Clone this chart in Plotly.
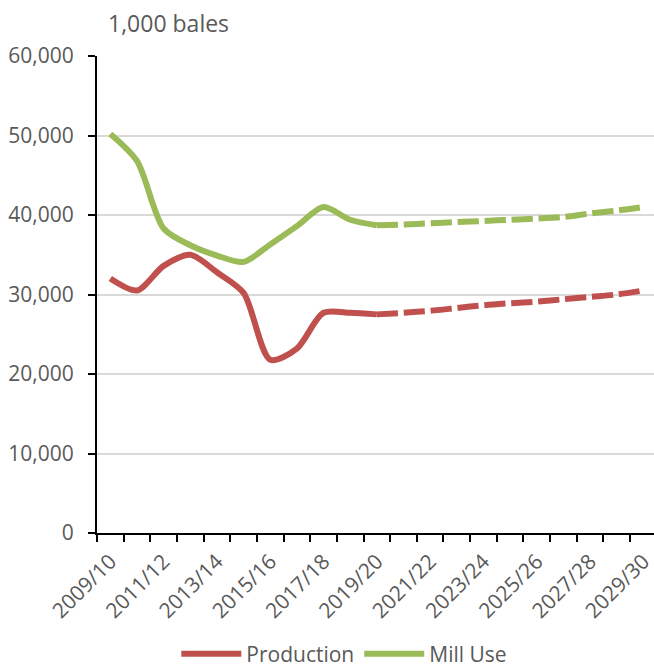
import plotly.graph_objects as go

years = ["2009/10", "2010/11", "2011/12", "2012/13", "2013/14", "2014/15", "2015/16",
         "2016/17", "2017/18", "2018/19", "2019/20", "2020/21", "2021/22", "2022/23",
         "2023/24", "2024/25", "2025/26", "2026/27", "2027/28", "2028/29", "2029/30"]

production = [32000, 30500, 33600, 35000, 32800, 30200, 21800, 23200, 27700, 27700, 27500,
              27700, 27950, 28300, 28650, 28900, 29100, 29400, 29700, 30000, 30500]
mill_use = [50200, 46800, 38300, 36200, 34900, 34100, 36300, 38600, 41000, 39400, 38700,
            38800, 38950, 39100, 39250, 39400, 39550, 39750, 40200, 40550, 41000]

split = years.index("2019/20")

RED = "#C0504D"
GREEN = "#9BBB59"
TXT = "#595959"
FONT = "Open Sans"

fig = go.Figure()
for name, vals, col in [("Production", production, RED), ("Mill Use", mill_use, GREEN)]:
    fig.add_trace(go.Scatter(
        x=years[:split + 1], y=vals[:split + 1], name=name, mode="lines",
        line=dict(color=col, width=6, shape="spline", smoothing=0.8),
        showlegend=True, legendgroup=name))
    fig.add_trace(go.Scatter(
        x=years[split:], y=vals[split:], name=name, mode="lines",
        line=dict(color=col, width=6, shape="spline", smoothing=0.8, dash="21px,6px"),
        showlegend=False, legendgroup=name))

ticktext = [y if i % 2 == 0 else "" for i, y in enumerate(years)]

fig.update_layout(
    width=654, height=670,
    margin=dict(l=97, r=0, t=56, b=137, autoexpand=False),
    paper_bgcolor="white", plot_bgcolor="white",
    font=dict(family=FONT, size=21, color=TXT),
    xaxis=dict(
        type="category", range=[-0.5, 20.4],
        tickmode="array", tickvals=years, ticktext=ticktext,
        tickson="boundaries", ticks="outside", ticklen=7, tickwidth=2, tickcolor="black",
        tickangle=-45, showline=True, linecolor="black", linewidth=2,
        showgrid=False, ticklabelstandoff=6, tickfont=dict(family=FONT, size=21, color=TXT),
    ),
    yaxis=dict(
        range=[0, 60000], tickvals=[0, 10000, 20000, 30000, 40000, 50000, 60000],
        tickformat=",d", ticks="outside", ticklen=7, tickwidth=2, tickcolor="black",
        showline=True, linecolor="black", linewidth=2,
        showgrid=True, gridcolor="#D9D9D9", gridwidth=2, zeroline=False,
        ticklabelstandoff=10, tickfont=dict(family=FONT, size=21, color=TXT),
    ),
    legend=dict(orientation="h", x=0.444, xanchor="center", y=-0.254, yanchor="middle",
                font=dict(family=FONT, size=21, color=TXT), itemwidth=60,
                bgcolor="rgba(0,0,0,0)", borderwidth=0, tracegroupgap=0),
    annotations=[dict(text="1,000 bales", xref="paper", yref="paper",
                      x=0.0167, y=1.07, xanchor="left", yanchor="middle",
                      showarrow=False, font=dict(family=FONT, size=23, color=TXT))],
)

fig.write_html("out.html", config={"displayModeBar": False},
               post_script="document.body.style.margin='0';document.body.style.overflow='hidden';")
